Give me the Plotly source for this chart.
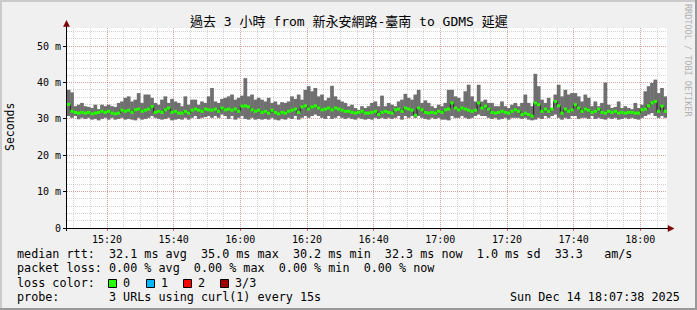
import plotly.graph_objects as go
import pandas as pd

# ---------------- data ----------------
start_time = "2025-12-14 15:08"
step_minutes = 1

max_ms = [
    38.0, 37.3, 33.5, 33.9, 34.4, 33.5, 33.3, 33.0, 33.9, 32.7, 33.9, 33.5, 33.9, 33.5, 33.3, 34.4,
    34.8, 35.8, 36.2, 34.8, 35.3, 37.1, 34.4, 36.7, 36.7, 35.8, 34.4, 33.9, 35.3, 36.2, 34.4, 35.5,
    34.8, 34.4, 33.5, 36.2, 33.9, 35.3, 35.3, 33.9, 34.8, 34.4, 36.2, 38.5, 34.8, 34.4,
    35.5, 35.8, 36.2, 36.7, 35.3, 35.8, 36.4, 41.2, 36.2, 36.7, 35.3, 35.8, 35.3, 34.8, 35.8, 34.4,
    34.8, 33.9, 34.6, 34.4, 34.8, 36.2, 35.5, 36.7, 35.3, 38.0, 39.0, 37.6, 38.5, 36.2, 36.7, 35.1,
    35.8, 39.1, 36.2, 35.3, 34.8, 34.4, 33.5, 33.9, 33.0, 32.5, 33.5, 33.0,
    33.5, 34.4, 34.8, 33.5, 36.4, 33.5, 34.4, 33.9, 33.5, 34.8, 35.3, 36.9, 35.8, 35.3, 36.7, 38.0,
    34.4, 35.1, 34.4, 33.5, 33.0, 33.9, 33.5, 34.4, 38.0, 38.0, 36.2, 35.8, 34.8, 37.6, 39.4, 36.2,
    34.8, 39.4, 34.8, 35.3, 34.4, 34.4, 33.5, 33.5, 34.8, 33.5, 33.0, 33.9, 34.4,
    33.5, 34.4, 36.7, 34.4, 33.5, 42.4, 39.0, 35.3, 34.4, 35.8, 33.0, 36.7, 39.4, 36.2, 38.0, 36.7,
    37.1, 37.1, 36.2, 34.8, 36.7, 35.8, 33.5, 34.8, 33.5, 34.4, 40.0, 33.9, 33.0, 33.3, 34.8, 33.0,
    33.5, 33.0, 32.7, 34.4, 33.0, 33.9, 37.6, 39.0, 39.9, 40.8, 37.1, 38.5, 36.2,
]
med_ms = [
    34.0, 32.1, 31.8, 31.6, 31.8, 31.6, 31.8, 31.4, 31.6, 31.8, 32.1, 31.8, 32.1, 31.6, 31.4, 31.6,
    32.4, 32.1, 32.4, 31.8, 32.5, 32.7, 32.1, 32.4, 32.7, 33.4, 31.8, 32.1, 31.8, 32.5, 33.0, 31.8,
    32.1, 31.6, 31.6, 32.1, 31.6, 32.4, 32.7, 32.4, 32.1, 32.7, 32.5, 32.4, 32.7, 32.1,
    33.0, 32.5, 32.7, 32.4, 32.7, 32.1, 33.5, 33.6, 33.3, 32.5, 32.1, 32.4, 31.8, 32.1, 31.6, 32.4,
    31.8, 31.4, 31.8, 31.6, 32.1, 32.4, 32.7, 31.8, 33.3, 33.6, 32.7, 33.3, 33.6, 33.0, 32.5, 32.7,
    33.0, 32.5, 33.0, 32.7, 32.4, 32.1, 32.1, 31.8, 31.6, 31.8, 32.1, 31.6,
    31.6, 31.8, 32.1, 31.2, 31.8, 32.1, 31.8, 31.6, 32.5, 32.7, 32.1, 33.0, 32.7, 32.4, 31.0, 33.0,
    32.5, 31.8, 31.6, 31.8, 31.6, 32.1, 31.8, 32.5, 32.7, 34.4, 33.0, 32.5, 33.0, 32.7, 32.4, 32.1,
    32.4, 34.4, 33.0, 33.5, 32.7, 31.8, 31.6, 31.8, 32.1, 31.8, 31.6, 32.1, 32.5,
    32.1, 31.2, 31.6, 31.2, 30.8, 34.4, 33.9, 32.1, 32.7, 32.1, 32.7, 34.8, 33.6, 31.6, 32.7, 32.1,
    32.5, 33.9, 33.0, 32.1, 32.7, 32.4, 31.8, 32.1, 32.7, 31.8, 31.6, 32.1, 31.8, 32.1, 31.6, 31.8,
    31.6, 31.8, 31.8, 31.6, 31.6, 32.5, 32.7, 33.6, 34.4, 34.8, 32.1, 33.5, 32.1,
]
min_ms = [
    30.8, 30.3, 30.8, 29.9, 30.3, 30.0, 30.3, 29.8, 30.0, 29.6, 30.0, 30.3, 29.8, 30.3, 29.8, 30.0,
    30.3, 29.8, 30.0, 29.8, 29.6, 30.3, 29.8, 30.0, 30.3, 30.8, 30.3, 30.0, 29.8, 30.0, 30.3, 29.6,
    29.8, 30.0, 29.8, 30.3, 29.8, 30.3, 30.8, 30.0, 30.3, 30.5, 30.8, 30.3, 30.8, 30.3,
    31.2, 30.8, 30.0, 30.8, 29.8, 30.3, 30.8, 30.0, 29.8, 30.3, 29.8, 30.0, 29.8, 30.0, 29.8, 30.3,
    29.8, 29.6, 30.0, 29.8, 30.3, 30.0, 30.8, 29.8, 30.3, 30.8, 30.3, 30.8, 31.2, 30.8, 30.3, 30.0,
    30.8, 30.0, 30.3, 30.8, 30.3, 30.0, 30.3, 30.0, 29.8, 30.3, 30.0, 29.8,
    30.0, 29.8, 30.3, 30.0, 30.3, 30.0, 30.3, 30.0, 30.3, 30.8, 29.8, 30.8, 30.3, 30.8, 30.3, 30.8,
    30.3, 30.0, 29.8, 30.3, 30.0, 30.3, 29.8, 29.8, 29.6, 30.8, 30.3, 30.3, 30.8, 30.3, 30.0, 30.3,
    30.8, 31.2, 30.8, 30.8, 30.3, 30.0, 30.3, 29.8, 30.0, 30.3, 29.8, 30.3, 30.3,
    30.3, 30.0, 30.3, 29.8, 29.6, 29.8, 30.3, 30.0, 30.8, 30.3, 30.8, 31.2, 30.3, 29.8, 30.3, 30.0,
    30.8, 30.8, 30.0, 30.3, 30.3, 30.0, 30.8, 30.0, 30.3, 30.0, 29.8, 30.3, 30.0, 30.3, 29.8, 30.0,
    30.3, 30.0, 30.3, 30.0, 29.8, 30.3, 30.8, 31.2, 31.6, 30.8, 30.3, 30.8, 30.3,
]

x_tick_labels = ["15:20", "15:40", "16:00", "16:20", "16:40", "17:00", "17:20", "17:40", "18:00"]
y_tick_values = [0, 10, 20, 30, 40, 50]
y_tick_labels = ["0", "10 m", "20 m", "30 m", "40 m", "50 m"]

title_text = "過去 3 小時 from 新永安網路-臺南 to GDMS 延遲"
y_title = "Seconds"
watermark = "RRDTOOL / TOBI OETIKER"
legend_lines = [
    "median rtt:  32.1 ms avg  35.0 ms max  30.2 ms min  32.3 ms now  1.0 ms sd  33.3   am/s",
    "packet loss: 0.00 % avg  0.00 % max  0.00 % min  0.00 % now",
    "loss color:",
    "probe:       3 URLs using curl(1) every 15s",
]
timestamp_text = "Sun Dec 14 18:07:38 2025"
loss_labels = ["0", "1", "2", "3/3"]
loss_colors = ["#26ff00", "#00b8ff", "#ff0000", "#a00000"]

# ---------------- styles ----------------
FONT = "DejaVu Sans Mono, Noto Sans CJK TC, monospace"
SMOKE = "#6f6f6f"
MEDIAN = "#26ff00"
GRID = "rgba(150,150,150,0.42)"
MGRID = "rgba(230,60,60,0.32)"
ARROW = "#7f0000"

W, H = 697, 310
L, R, T, B = 67, 30, 28, 82
PW, PH = W - L - R, H - T - B


def px(x):
    return (x - L) / PW


def py(y):
    return (T + PH - y) / PH


t0 = pd.Timestamp(start_time)
step = pd.Timedelta(minutes=step_minutes)
n = len(med_ms)
x_centers = [t0 + step * (i + 0.5) for i in range(n)]
x_edges = [t0 + step * i for i in range(n + 1)]
t_end = t0 + step * n

fig = go.Figure()

# smoke: min..max range (slightly widened so neighbouring steps touch without seams)
fig.add_trace(go.Bar(
    x=x_centers,
    y=[hi - lo for hi, lo in zip(max_ms, min_ms)],
    base=min_ms,
    width=step.total_seconds() * 1000 * 1.12,
    marker=dict(color=SMOKE, line=dict(width=0)),
    hoverinfo="skip",
))

# dark step connectors of the median
fig.add_trace(go.Scatter(
    x=x_edges,
    y=med_ms + [med_ms[-1]],
    mode="lines",
    line=dict(color="#1c1c1c", width=1, shape="hv"),
    hoverinfo="skip",
))

# green median segments
gx, gy = [], []
for i, m in enumerate(med_ms):
    gx += [x_edges[i], x_edges[i + 1], None]
    gy += [m, m, None]
fig.add_trace(go.Scatter(
    x=gx, y=gy, mode="lines",
    line=dict(color=MEDIAN, width=3),
    hoverinfo="skip",
))

x_tick_vals = [pd.Timestamp(t0.strftime("%Y-%m-%d ") + lab) for lab in x_tick_labels]

fig.update_layout(
    width=W, height=H,
    margin=dict(l=L, r=R, t=T, b=B, pad=0),
    paper_bgcolor="#f0f0f0",
    plot_bgcolor="#ffffff",
    showlegend=False,
    barmode="overlay",
    xaxis=dict(
        type="date",
        range=[t0, t_end],
        tickmode="array",
        tickvals=x_tick_vals,
        ticktext=x_tick_labels,
        tickfont=dict(family=FONT, size=10, color="black"),
        showgrid=True, gridcolor=MGRID, gridwidth=1, griddash="1px,1px",
        minor=dict(tickmode="linear", tick0=t0 + pd.Timedelta(minutes=2), dtick=300000,
                   showgrid=True, gridcolor=GRID, griddash="1px,1px", gridwidth=1),
        ticks="outside", ticklen=2, tickcolor="rgba(230,60,60,0.8)",
        showline=False, zeroline=False, fixedrange=True,
    ),
    yaxis=dict(
        range=[0, 55],
        tickmode="array",
        tickvals=y_tick_values,
        ticktext=y_tick_labels,
        tickfont=dict(family=FONT, size=10, color="black"),
        showgrid=True, gridcolor=MGRID, gridwidth=1, griddash="1px,1px",
        minor=dict(dtick=2, showgrid=True, gridcolor=GRID, griddash="1px,1px", gridwidth=1),
        ticks="outside", ticklen=3, tickcolor="black",
        showline=False, zeroline=False, fixedrange=True,
    ),
)

shapes = []
# frame (3D border)
shapes.append(dict(type="rect", xref="paper", yref="paper", x0=px(0), x1=px(W), y0=py(0), y1=py(2),
                   fillcolor="#cbcbcb", line=dict(width=0), layer="above"))
shapes.append(dict(type="rect", xref="paper", yref="paper", x0=px(0), x1=px(2), y0=py(0), y1=py(H),
                   fillcolor="#cbcbcb", line=dict(width=0), layer="above"))
shapes.append(dict(type="rect", xref="paper", yref="paper", x0=px(0), x1=px(W), y0=py(H - 2), y1=py(H),
                   fillcolor="#999999", line=dict(width=0), layer="above"))
shapes.append(dict(type="rect", xref="paper", yref="paper", x0=px(W - 2), x1=px(W), y0=py(0), y1=py(H),
                   fillcolor="#999999", line=dict(width=0), layer="above"))
# axes
shapes.append(dict(type="line", xref="paper", yref="paper", x0=px(63), x1=px(668), y0=py(228.5), y1=py(228.5),
                   line=dict(color="black", width=1), layer="above"))
shapes.append(dict(type="line", xref="paper", yref="paper", x0=px(66.5), x1=px(66.5), y0=py(231), y1=py(25),
                   line=dict(color="black", width=1), layer="above"))
# arrows
shapes.append(dict(type="path", xref="paper", yref="paper",
                   path=f"M {px(66.5)} {py(20.5)} L {px(63.5)} {py(26.5)} L {px(69.5)} {py(26.5)} Z",
                   fillcolor=ARROW, line=dict(color=ARROW, width=0.5), layer="above"))
shapes.append(dict(type="path", xref="paper", yref="paper",
                   path=f"M {px(674)} {py(228.5)} L {px(668)} {py(225.5)} L {px(668)} {py(231.5)} Z",
                   fillcolor=ARROW, line=dict(color=ARROW, width=0.5), layer="above"))

# loss colour boxes
box_x = [108, 146, 183, 220]
label_x = [122, 160, 197, 234]
for bx, col in zip(box_x, loss_colors):
    shapes.append(dict(type="rect", xref="paper", yref="paper",
                       x0=px(bx + 0.5), x1=px(bx + 8.5), y0=py(279.5), y1=py(287.5),
                       fillcolor=col, line=dict(color="black", width=1), layer="above"))

annotations = []


def txt(x, y, s, size, xanchor="left", color="black", angle=0):
    annotations.append(dict(
        x=px(x), y=py(y), xref="paper", yref="paper",
        text=s.replace(" ", "\u00a0"), showarrow=False,
        xanchor=xanchor, yanchor="middle", textangle=angle, borderpad=0,
        font=dict(family=FONT, size=size, color=color),
    ))


txt(348.5, 21, title_text, 13, xanchor="center")
txt(10, 127, y_title, 11.5, xanchor="center", angle=-90)
txt(688, 60, watermark, 8.5, xanchor="center", color="#b0b0b0", angle=90)
line_y = [254, 268.3, 282.7, 296.5]
for s, ly in zip(legend_lines, line_y):
    txt(15.5, ly, s, 11.75)
for lx, lab in zip(label_x, loss_labels):
    txt(lx, line_y[2], lab, 11.75)
txt(681, line_y[3], timestamp_text, 11.75, xanchor="right")

fig.update_layout(shapes=shapes, annotations=annotations)

fig.write_html("out.html", config={"displayModeBar": False})
